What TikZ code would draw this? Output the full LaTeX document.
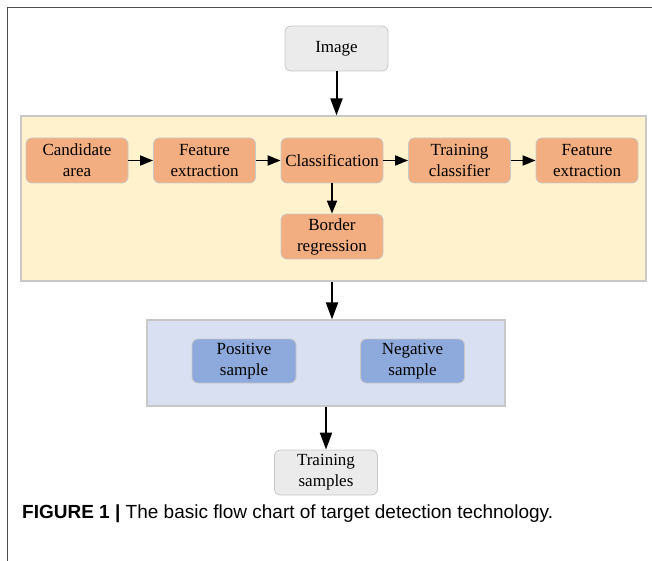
\documentclass[tikz,border=0pt]{standalone}
\usepackage{fontspec}
\setmainfont{Liberation Serif}
\newfontfamily\capfont{Liberation Sans}
\newfontfamily\boxfont{Liberation Serif}
\usetikzlibrary{arrows.meta}
\definecolor{orangebox}{HTML}{F2AE80}
\definecolor{yellowpanel}{HTML}{FFF2CC}
\definecolor{bluepanel}{HTML}{D9E0F1}
\definecolor{bluebox}{HTML}{8EA9DB}
\definecolor{greybox}{HTML}{EBEBEB}
\definecolor{edgegrey}{HTML}{C8C8C8}
\tikzset{
  box/.style={draw=edgegrey, line width=0.8pt, rounded corners=6pt, minimum width=102pt, minimum height=45pt, align=center, font=\boxfont\fontsize{17}{21}\selectfont, inner sep=0pt},
  obox/.style={box, fill=orangebox},
  bbox/.style={box, fill=bluebox, minimum width=104pt, minimum height=44pt},
  gbox/.style={box, fill=greybox, minimum width=103pt},
  panel/.style={draw=edgegrey, line width=1.2pt},
  arr/.style={line width=2pt, -{Triangle[width=12pt,length=17pt]}},
  sarr/.style={line width=1.8pt, -{Triangle[width=10pt,length=13pt]}}
}
\begin{document}
\begin{tikzpicture}[x=1pt,y=-1pt]
\useasboundingbox (0,0) rectangle (652,561);
\fill[white] (0,0) rectangle (652,561);
% outer frame
\draw[line width=1pt, black!70] (7,561) -- (7,8) -- (652,8);
% panels
\node[panel, fill=yellowpanel, minimum width=625pt, minimum height=165pt, inner sep=0pt] (yp) at (333.5,198.5) {};
\node[panel, fill=bluepanel, minimum width=358pt, minimum height=86pt, inner sep=0pt] (bp) at (326,363) {};
% nodes
\node[gbox] (img) at (336.5,48.5) {Image};
\node[obox] (cand) at (77,160.5) {Candidate\\area};
\node[obox] (feat1) at (204.5,160.5) {Feature\\extraction};
\node[obox] (cls) at (332,160.5) {Classification};
\node[obox] (train) at (459.5,160.5) {Training\\classifier};
\node[obox] (feat2) at (587,160.5) {Feature\\extraction};
\node[obox] (bord) at (332,236.5) {Border\\regression};
\node[bbox] (pos) at (244,361) {Positive\\sample};
\node[bbox] (neg) at (412.5,361) {Negative\\sample};
\node[gbox] (ts) at (326,472.5) {Training\\samples};
% connectors
\draw[arr] (img.south) -- (img.south |- yp.north);
\draw[sarr] (cand) -- (feat1);
\draw[sarr] (feat1) -- (cls);
\draw[sarr] (cls) -- (train);
\draw[sarr] (train) -- (feat2);
\draw[sarr] (cls) -- (bord);
\draw[arr] (yp.south -| bord.south) -- (bp.north -| bord.south);
\draw[arr] (bp.south -| ts.north) -- (ts.north);
% caption
\node[anchor=west, font=\capfont\fontsize{19}{23}\selectfont, inner sep=0pt] (cap) at (22,514) {\textbf{FIGURE 1 |} The basic flow chart of target detection technology.};
\end{tikzpicture}
\end{document}
